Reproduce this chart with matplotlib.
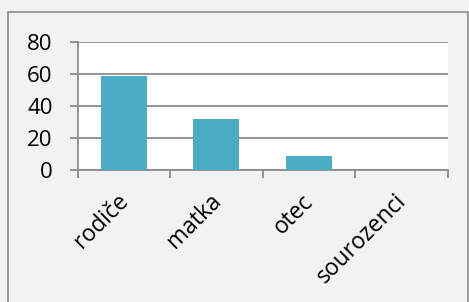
import matplotlib.pyplot as plt
import matplotlib.transforms as mtransforms
from matplotlib.patches import Rectangle

categories = ['rodiče', 'matka', 'otec', 'sourozenci']
values = [59, 32, 9, 0]
y_ticks = [0, 20, 40, 60, 80]

plt.rcParams['font.family'] = ['Open Sans', 'DejaVu Sans']

fig = plt.figure(figsize=(4.69, 3.02), dpi=100)
fig.patch.set_facecolor('#f2f2f2')

# outer chart frame
fig.patches.append(Rectangle((8 / 469, -0.1), 460 / 469, 1.1 - 12 / 302,
                             transform=fig.transFigure, fill=False,
                             edgecolor='#8c8c8c', linewidth=1.2))

ax = fig.add_axes([77.5 / 469, 1 - 170 / 302, 370 / 469, 128 / 302])
ax.set_facecolor('white')

pos = range(len(categories))
ax.bar(pos, values, width=0.5, color='#4bacc6', zorder=3)

ax.set_xlim(-0.5, len(categories) - 0.5)
ax.set_ylim(0, 80)
ax.set_yticks(y_ticks)
ax.grid(axis='y', color='#8c8c8c', linewidth=1.3, zorder=1)

ax.set_xticks([p - 0.5 for p in pos] + [len(categories) - 0.5])
ax.set_xticklabels([])
ax.set_xticks(list(pos), minor=True)
ax.set_xticklabels(categories, minor=True, rotation=45, ha='right',
                   rotation_mode='anchor', fontsize=16.5)
ax.tick_params(axis='x', which='minor', length=0, pad=14)
ax.tick_params(axis='x', which='major', length=6, width=1.3, color='#8c8c8c')
ax.tick_params(axis='y', length=6, width=1.3, color='#8c8c8c', labelsize=16, pad=12)

# nudge the rotated labels a little to the left
shift = mtransforms.ScaledTranslation(-7 / 100, 0, fig.dpi_scale_trans)
for lab in ax.get_xticklabels(minor=True):
    lab.set_transform(lab.get_transform() + shift)

for side in ['top', 'right']:
    ax.spines[side].set_visible(False)
for side in ['left', 'bottom']:
    ax.spines[side].set_color('#8c8c8c')
    ax.spines[side].set_linewidth(1.3)

fig.savefig('out.png', dpi=100, facecolor=fig.get_facecolor())
